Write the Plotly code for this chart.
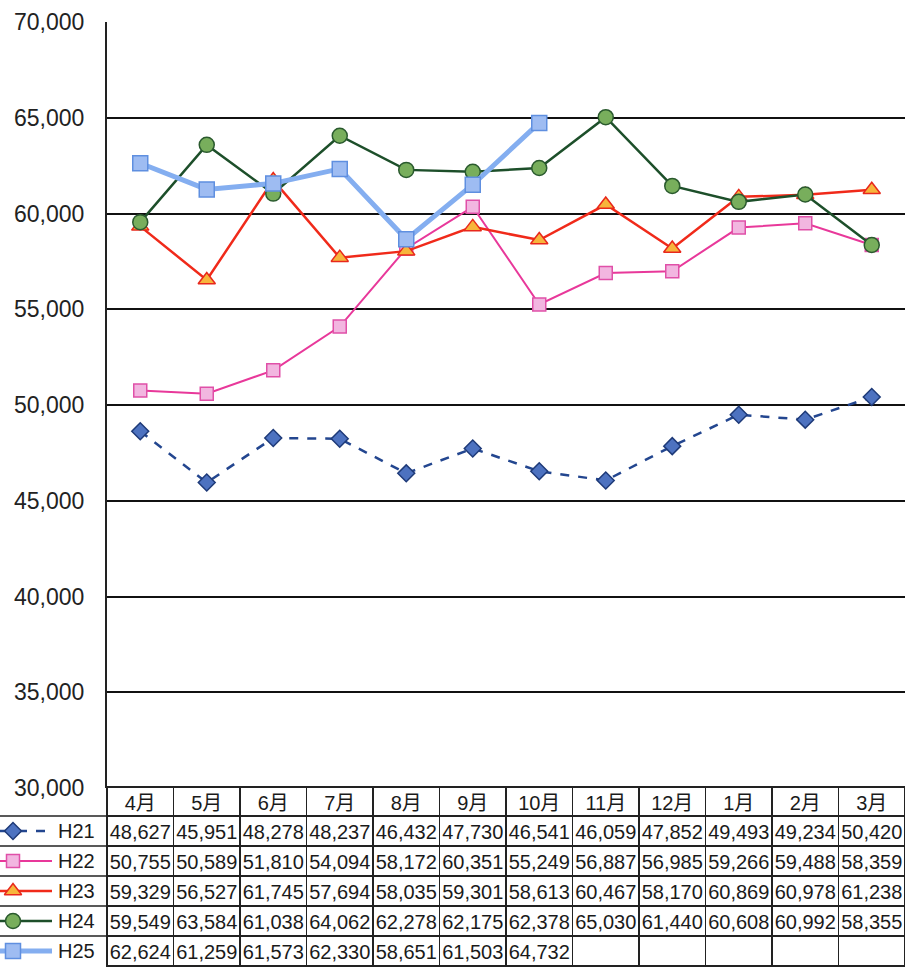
import plotly.graph_objects as go

months = ['4月', '5月', '6月', '7月', '8月', '9月', '10月', '11月', '12月', '1月', '2月', '3月']
series_names = ['H21', 'H22', 'H23', 'H24', 'H25']
h21 = [48627, 45951, 48278, 48237, 46432, 47730, 46541, 46059, 47852, 49493, 49234, 50420]
h22 = [50755, 50589, 51810, 54094, 58172, 60351, 55249, 56887, 56985, 59266, 59488, 58359]
h23 = [59329, 56527, 61745, 57694, 58035, 59301, 58613, 60467, 58170, 60869, 60978, 61238]
h24 = [59549, 63584, 61038, 64062, 62278, 62175, 62378, 65030, 61440, 60608, 60992, 58355]
h25 = [62624, 61259, 61573, 62330, 58651, 61503, 64732, None, None, None, None, None]
y_ticks = [30000, 35000, 40000, 45000, 50000, 55000, 60000, 65000, 70000]

all_series = [h21, h22, h23, h24, h25]
styles = [
    dict(line=dict(color='#23468f', width=2.5, dash='dash'),
         marker=dict(symbol='diamond', size=13, color='#4d72c0', line=dict(color='#1e3a78', width=1.5))),
    dict(line=dict(color='#e8389a', width=2),
         marker=dict(symbol='square', size=13, color='#f2b6e0', line=dict(color='#e050a8', width=1.5))),
    dict(line=dict(color='#f02a1a', width=2.5),
         marker=dict(symbol='triangle-up', size=15, color='#f7b53c', line=dict(color='#e8281c', width=1.5))),
    dict(line=dict(color='#1d4f2a', width=2.5),
         marker=dict(symbol='circle', size=15, color='#78ae5c', line=dict(color='#2a5a2e', width=1.5))),
    dict(line=dict(color='#84aef0', width=5),
         marker=dict(symbol='square', size=15, color='#9ebcf2', line=dict(color='#5f8fe0', width=1.5))),
]

W, H = 905, 975


def px_x(px):
    return px / W


def px_y(py):
    return 1 - py / H


x_left = px_x(107)
plot_bottom = px_y(788)
plot_top = px_y(22)
table_top = px_y(787)

fig = go.Figure()

for name, vals, st in zip(series_names, all_series, styles):
    fig.add_trace(go.Scatter(x=months, y=vals, mode='lines+markers', name=name,
                             line=st['line'], marker=st['marker'], showlegend=False,
                             xaxis='x', yaxis='y', cliponaxis=False))

# legend glyphs in the first table column
for i, (name, st) in enumerate(zip(series_names, styles)):
    fig.add_trace(go.Scatter(x=[0, 52], y=[i, i], mode='lines', line=st['line'],
                             showlegend=False, xaxis='x2', yaxis='y2', hoverinfo='skip'))
    fig.add_trace(go.Scatter(x=[13], y=[i], mode='markers', marker=st['marker'],
                             showlegend=False, xaxis='x2', yaxis='y2', hoverinfo='skip',
                             cliponaxis=False))
    fig.add_annotation(x=56, y=i, xref='x2', yref='y2', text=name, showarrow=False,
                       xanchor='left', yanchor='middle',
                       font=dict(family='Liberation Sans, Arial', size=20, color='#1a1a1a'))

# data table
cell_values = [[('{:,}'.format(s[j]) if s[j] is not None else '') for s in all_series]
               for j in range(len(months))]
fig.add_trace(go.Table(
    domain=dict(x=[x_left, 1], y=[0, table_top]),
    columnwidth=[1] * len(months),
    header=dict(values=months, height=29, align='center', fill_color='white',
                line=dict(color='#222', width=1.5),
                font=dict(family='Liberation Sans, Noto Sans CJK JP', size=20, color='#1a1a1a')),
    cells=dict(values=cell_values, height=30, align='center', fill_color='white',
               line=dict(color='#222', width=1.5),
               font=dict(family='Liberation Sans, Arial', size=20, color='#1a1a1a')),
))

# horizontal rules across the label column
for k in range(5):
    yp = px_y(816 + 30 * k)
    fig.add_shape(type='line', xref='paper', yref='paper', x0=0, x1=x_left, y0=yp, y1=yp,
                  line=dict(color='#222', width=1.5))

fig.update_layout(
    width=W, height=H, margin=dict(l=0, r=0, t=0, b=0),
    paper_bgcolor='white', plot_bgcolor='white',
    xaxis=dict(domain=[x_left, 1], type='category', range=[-0.5, 11.5],
               showticklabels=False, showgrid=False, zeroline=False, showline=False, ticks=''),
    yaxis=dict(domain=[plot_bottom, plot_top], range=[30000, 70000], tickvals=y_ticks,
               tickformat=',d', showgrid=True, gridcolor='#111', gridwidth=1.5,
               zeroline=False, showline=True, linecolor='#222', linewidth=2,
               ticks='', ticklabelstandoff=16, automargin=False,
               tickfont=dict(family='Liberation Sans, Arial', size=23, color='#222')),
    xaxis2=dict(domain=[0, x_left], range=[0, 107], visible=False, fixedrange=True,
                anchor='y2'),
    yaxis2=dict(domain=[0, table_top], range=[4.8, -1.4667], visible=False, fixedrange=True,
                anchor='x2'),
)

fig.write_html(
    'out.html',
    config={'displayModeBar': False},
    post_script="document.body.style.margin='0';document.body.style.overflow='hidden';"
                "document.documentElement.style.overflow='hidden';",
)
